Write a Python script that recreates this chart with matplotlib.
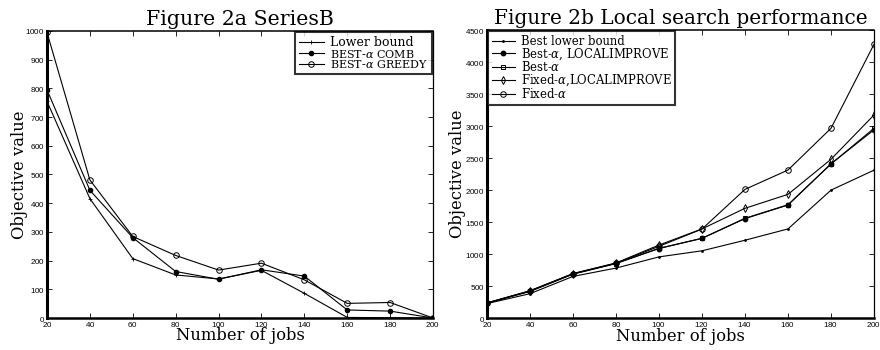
import matplotlib
matplotlib.use("Agg")
import matplotlib.pyplot as plt

plt.rcParams['mathtext.fontset'] = 'dejavuserif'
plt.rcParams['axes.formatter.use_mathtext'] = True

# ---- data: Figure 2a ----
jobs = [20, 40, 60, 80, 100, 120, 140, 160, 180, 200]
a_lower = [755, 416, 207, 150, 136, 166, 86, 2, 1, 0]
a_comb = [795, 445, 280, 162, 135, 168, 146, 28, 24, 0]
a_greedy = [995, 481, 284, 218, 167, 191, 133, 51, 54, 0]
a_labels = ["Lower bound", r"BEST-$\alpha$ COMB", r"BEST-$\alpha$ GREEDY"]
a_title = "Figure 2a SeriesB"

# ---- data: Figure 2b ----
b_lower = [225, 380, 650, 780, 955, 1050, 1215, 1392, 1998, 2310]
b_best_li = [235, 420, 690, 855, 1085, 1245, 1553, 1765, 2410, 2940]
b_best = [232, 415, 685, 850, 1089, 1245, 1558, 1770, 2406, 2964]
b_fixed_li = [235, 425, 695, 860, 1140, 1392, 1714, 1932, 2480, 3172]
b_fixed = [235, 425, 690, 855, 1120, 1390, 2010, 2312, 2964, 4277]
b_labels = ["Best lower bound", r"Best-$\alpha$, LOCALIMPROVE", r"Best-$\alpha$",
            r"Fixed-$\alpha$,LOCALIMPROVE", r"Fixed-$\alpha$"]
b_title = "Figure 2b Local search performance"

xlabel = "Number of jobs"
ylabel = "Objective value"

W, H = 880, 350
fig = plt.figure(figsize=(W / 100, H / 100), dpi=100)

serif = 'DejaVu Serif'
tickfont = 'Liberation Sans'


def style(ax, yticks, ymax):
    ax.set_xlim(20, 200)
    ax.set_ylim(0, ymax)
    ax.set_xticks(jobs)
    ax.set_yticks(yticks)
    ax.tick_params(direction='in', length=3.5, width=0.6, top=True, right=True,
                   labelsize=5.8, pad=1.5)
    for lab in ax.get_xticklabels() + ax.get_yticklabels():
        lab.set_family(tickfont)
    ax.spines['left'].set_linewidth(2.2)
    ax.spines['bottom'].set_linewidth(1.8)
    ax.spines['top'].set_linewidth(1.1)
    ax.spines['right'].set_linewidth(0.9)
    ax.set_xlabel(xlabel, family=serif, fontsize=11.8)
    ax.xaxis.set_label_coords(0.5, -9.5 / 287)
    ax.set_ylabel(ylabel, family=serif, fontsize=11.8)
    ax.yaxis.label.set_va('center')


def make_legend(ax, loc, size, spacing):
    leg = ax.legend(loc=loc, prop={'family': serif, 'size': size},
                    frameon=True, fancybox=False, edgecolor='k', borderaxespad=0.1,
                    handlelength=2.0, handletextpad=0.5, labelspacing=spacing,
                    borderpad=0.3)
    leg.get_frame().set_linewidth(1.5)
    return leg


lw = 0.8
# left
ax1 = fig.add_axes([47 / W, 1 - 318 / H, (433 - 47) / W, (318 - 31) / H])
ax1.plot(jobs, a_lower, color='k', lw=lw, marker='+', ms=2.5, mew=0.6, label=a_labels[0])
ax1.plot(jobs, a_comb, color='k', lw=lw, marker='o', ms=3, label=a_labels[1])
ax1.plot(jobs, a_greedy, color='k', lw=lw, marker='o', ms=4, mfc='none', mew=0.7, label=a_labels[2])
style(ax1, list(range(0, 1001, 100)), 1000)
ax1.yaxis.set_label_coords((20 - 47) / (433 - 47), 0.5)
ax1.set_title(a_title, family=serif, fontsize=14.8, pad=4)
leg1 = make_legend(ax1, 'upper right', 9, -0.12)
for t in leg1.get_texts()[1:]:
    t.set_fontsize(8)

# right
ax2 = fig.add_axes([487 / W, 1 - 318 / H, (874 - 487) / W, (318 - 30) / H])
ax2.plot(jobs, b_lower, color='k', lw=lw, marker='.', ms=2, label=b_labels[0])
ax2.plot(jobs, b_best_li, color='k', lw=lw, marker='o', ms=3.2, label=b_labels[1])
ax2.plot(jobs, b_best, color='k', lw=lw, marker='s', ms=3, mfc='none', mew=0.7, label=b_labels[2])
ax2.plot(jobs, b_fixed_li, color='k', lw=lw, marker='d', ms=4, mfc='none', mew=0.7, label=b_labels[3])
ax2.plot(jobs, b_fixed, color='k', lw=lw, marker='o', ms=4, mfc='none', mew=0.7, label=b_labels[4])
style(ax2, list(range(0, 4501, 500)), 4500)
ax2.yaxis.set_label_coords((457 - 487) / (874 - 487), 0.5)
ax2.set_title(b_title, family=serif, fontsize=14.5, pad=4)
leg2 = make_legend(ax2, 'upper left', 8.4, -0.12)

fig.savefig("out.png", dpi=100)
